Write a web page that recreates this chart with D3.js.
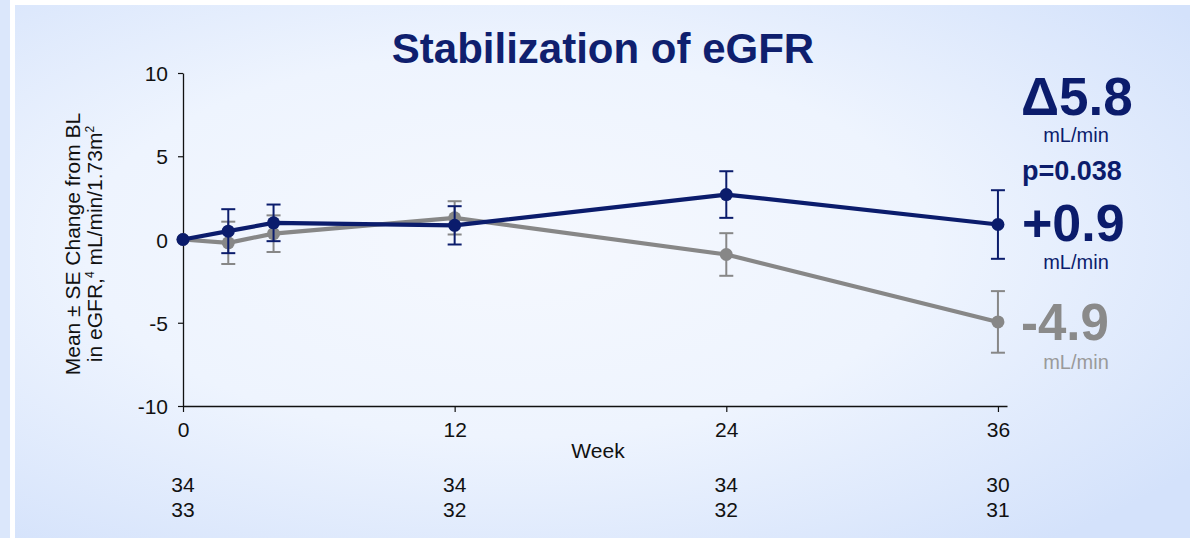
<!DOCTYPE html>
<html>
<head>
<meta charset="utf-8">
<script src="https://cdn.jsdelivr.net/npm/d3@7"></script>
<style>
  html, body { margin: 0; padding: 0; background: #ffffff; }
  svg { display: block; font-family: "Liberation Sans", Arial, sans-serif; }
</style>
</head>
<body>
<div id="chart"></div>
<script>
// Datos
const weeks = [0, 2, 4, 12, 24, 36];
const treatedMean = [0, 0.5, 1.0, 0.85, 2.7, 0.9];
const treatedSE = [0, 1.32, 1.1, 1.15, 1.4, 2.06];
const controlMean = [0, -0.2, 0.35, 1.3, -0.9, -4.95];
const controlSE = [0, 1.27, 1.1, 1.0, 1.28, 1.85];
const xTicks = [0, 12, 24, 36];
const yTicks = [-10, -5, 0, 5, 10];
const nTreated = [34, 34, 34, 30];
const nControl = [33, 32, 32, 31];

const W = 1197, H = 538;
const navy = "#0b1c6c";
const gray = "#878787";

const svg = d3.select("#chart").append("svg")
    .attr("width", W)
    .attr("height", H);

// Fondo con degradado
const defs = svg.append("defs");
const grad = defs.append("radialGradient")
    .attr("id", "bg")
    .attr("cx", "42%").attr("cy", "45%").attr("r", "72%");
grad.append("stop").attr("offset", "0%").attr("stop-color", "#f5f8fe");
grad.append("stop").attr("offset", "50%").attr("stop-color", "#eef4fe");
grad.append("stop").attr("offset", "100%").attr("stop-color", "#d4e2fb");

svg.append("rect").attr("x", 0).attr("y", 0).attr("width", 10).attr("height", H).attr("fill", "#dbe7fb");
svg.append("rect").attr("x", 15).attr("y", 5).attr("width", 1175).attr("height", H - 5).attr("fill", "url(#bg)");

// Escalas
const x = d3.scaleLinear().domain([0, 36.4]).range([183, 1007]);
const y = d3.scaleLinear().domain([-10, 10]).range([406, 73]);

// Ejes
const yAxis = svg.append("g")
    .attr("transform", `translate(${x(0)},0)`)
    .call(d3.axisLeft(y).tickValues(yTicks).tickFormat(d => String(d))
        .tickSize(5).tickPadding(10).tickSizeOuter(0));
const xAxis = svg.append("g")
    .attr("transform", `translate(0,${y(-10)})`)
    .call(d3.axisBottom(x).tickValues(xTicks).tickFormat(d => String(d))
        .tickSize(6).tickPadding(10).tickSizeOuter(0));

[yAxis, xAxis].forEach(g => {
    g.select(".domain").attr("stroke", "#111").attr("stroke-width", 1.3);
    g.selectAll(".tick line").attr("stroke", "#111").attr("stroke-width", 1.2);
    g.selectAll(".tick text")
        .attr("fill", "#111")
        .style("font-size", "21px")
        .style("font-family", "'Liberation Sans', Arial, sans-serif");
});
yAxis.selectAll(".tick text").attr("dy", "0.36em");

// Título
svg.append("text")
    .attr("x", 603).attr("y", 63)
    .attr("text-anchor", "middle")
    .attr("fill", "#0f1f6e")
    .style("font-size", "42px")
    .style("font-weight", "bold")
    .text("Stabilization of eGFR");

// Etiqueta eje Y
const yLab = svg.append("text")
    .attr("transform", `translate(80,244) rotate(-90)`)
    .attr("text-anchor", "middle")
    .attr("fill", "#111")
    .style("font-size", "21px");
yLab.append("tspan").attr("x", 0).attr("y", 0).text("Mean ± SE Change from BL");
const l2 = yLab.append("tspan").attr("x", 0).attr("y", 21.5);
l2.append("tspan").text("in eGFR,");
l2.append("tspan").attr("dy", -8).style("font-size", "12px").text("4");
l2.append("tspan").attr("dy", 8).text(" mL/min/1.73m");
l2.append("tspan").attr("dy", -8).style("font-size", "12px").text("2");

// Etiqueta eje X
svg.append("text")
    .attr("x", 598).attr("y", 458)
    .attr("text-anchor", "middle")
    .attr("fill", "#111")
    .style("font-size", "21px")
    .text("Week");

// Número de pacientes
[nTreated, nControl].forEach((row, r) => {
    svg.selectAll(".n" + r)
        .data(row)
        .enter()
        .append("text")
        .attr("x", (d, i) => x(xTicks[i]))
        .attr("y", 492 + r * 25)
        .attr("text-anchor", "middle")
        .attr("fill", "#111")
        .style("font-size", "21px")
        .text(d => d);
});

// Series
function drawSeries(means, ses, color) {
    const pts = weeks.map((w, i) => ({ w: w, m: means[i], s: ses[i] }));
    const g = svg.append("g");

    g.append("path")
        .datum(pts)
        .attr("fill", "none")
        .attr("stroke", color)
        .attr("stroke-width", 4.2)
        .attr("stroke-linejoin", "round")
        .attr("d", d3.line().x(d => x(d.w)).y(d => y(d.m)));

    const eb = g.selectAll(".eb")
        .data(pts.filter(d => d.s > 0))
        .enter()
        .append("g")
        .attr("stroke", color)
        .attr("stroke-width", 2);
    eb.append("line")
        .attr("x1", d => x(d.w)).attr("x2", d => x(d.w))
        .attr("y1", d => y(d.m + d.s)).attr("y2", d => y(d.m - d.s));
    eb.append("line")
        .attr("x1", d => x(d.w) - 7).attr("x2", d => x(d.w) + 7)
        .attr("y1", d => y(d.m + d.s)).attr("y2", d => y(d.m + d.s));
    eb.append("line")
        .attr("x1", d => x(d.w) - 7).attr("x2", d => x(d.w) + 7)
        .attr("y1", d => y(d.m - d.s)).attr("y2", d => y(d.m - d.s));

    g.selectAll(".pt")
        .data(pts)
        .enter()
        .append("circle")
        .attr("cx", d => x(d.w))
        .attr("cy", d => y(d.m))
        .attr("r", 6.5)
        .attr("fill", color);
}
drawSeries(controlMean, controlSE, gray);
drawSeries(treatedMean, treatedSE, navy);

// Anotaciones de la derecha
const notes = [
    { t: "Δ5.8", x: 1021, y: 115, size: 53, bold: true, c: navy, a: "start" },
    { t: "mL/min", x: 1076, y: 142, size: 20, bold: false, c: navy, a: "middle" },
    { t: "p=0.038", x: 1022, y: 180, size: 27, bold: true, c: navy, a: "start" },
    { t: "+0.9", x: 1022, y: 241, size: 52, bold: true, c: navy, a: "start" },
    { t: "mL/min", x: 1076, y: 269, size: 20, bold: false, c: navy, a: "middle" },
    { t: "-4.9", x: 1021, y: 340, size: 51, bold: true, c: "#8a8a8a", a: "start" },
    { t: "mL/min", x: 1076, y: 369, size: 20, bold: false, c: "#9a9a9a", a: "middle" }
];
svg.selectAll(".note")
    .data(notes)
    .enter()
    .append("text")
    .attr("x", d => d.x)
    .attr("y", d => d.y)
    .attr("text-anchor", d => d.a)
    .attr("fill", d => d.c)
    .style("font-size", d => d.size + "px")
    .style("font-weight", d => d.bold ? "bold" : "normal")
    .text(d => d.t);
</script>
</body>
</html>
